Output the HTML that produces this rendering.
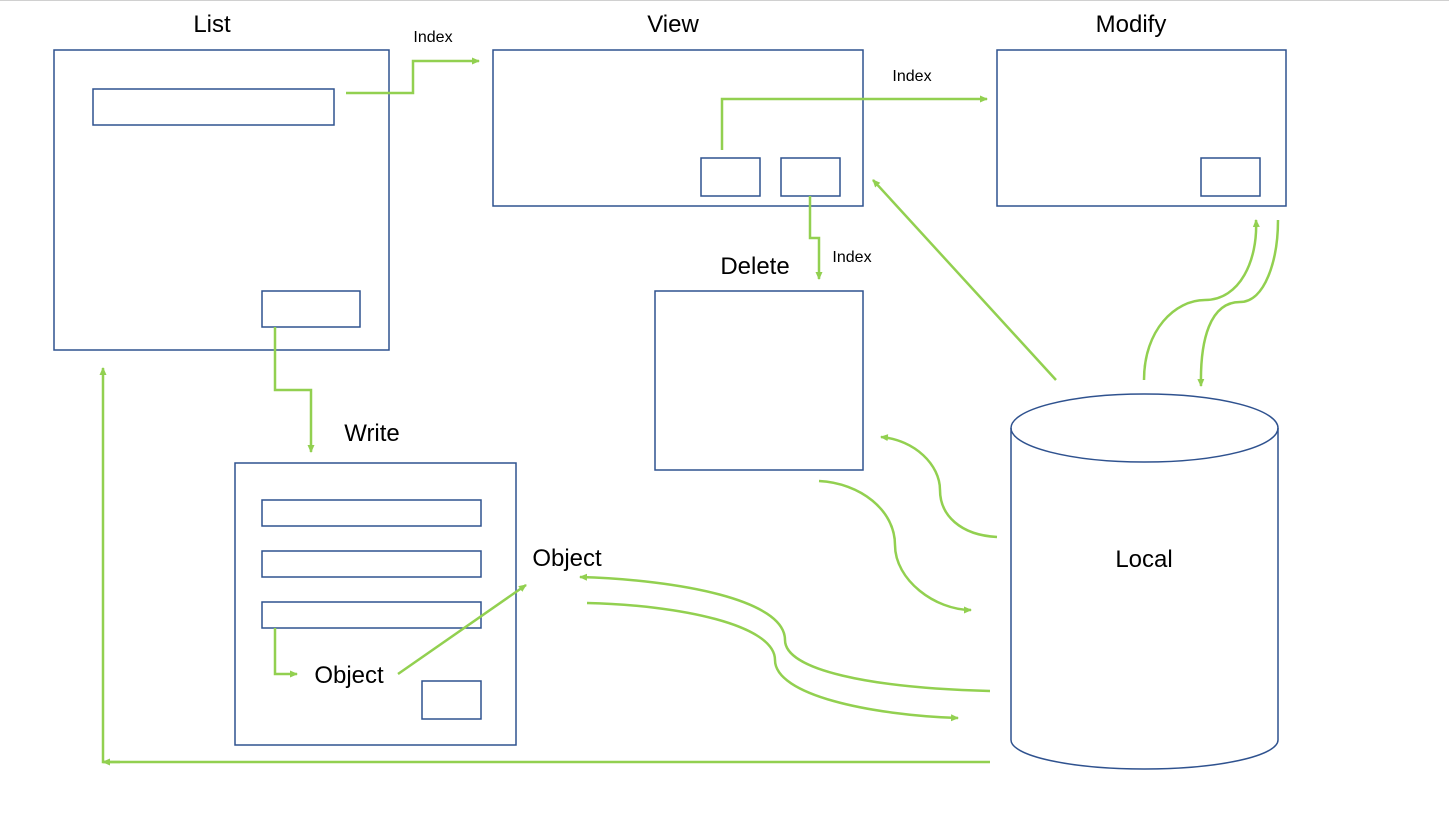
<!DOCTYPE html>
<html><head><meta charset="utf-8"><style>
html,body{margin:0;padding:0;background:#fff;}
svg{display:block;}
text{font-family:"Liberation Sans",sans-serif;fill:#000;}
</style></head><body>
<svg width="1449" height="818" viewBox="0 0 1449 818" xmlns="http://www.w3.org/2000/svg">
<defs>
<marker id="a" markerWidth="8" markerHeight="8" refX="7" refY="4" orient="auto" markerUnits="userSpaceOnUse">
<path d="M0,0.5 L8,4 L0,7.5 Z" fill="#92d050"/>
</marker>
</defs>
<line x1="0" y1="0.5" x2="1449" y2="0.5" stroke="#d0d0d0" stroke-width="1"/>
<g fill="none" stroke="#2f528f" stroke-width="1.5">
<rect x="54" y="50" width="335" height="300"/>
<rect x="93" y="89" width="241" height="36"/>
<rect x="262" y="291" width="98" height="36"/>
<rect x="493" y="50" width="370" height="156"/>
<rect x="701" y="158" width="59" height="38"/>
<rect x="781" y="158" width="59" height="38"/>
<rect x="997" y="50" width="289" height="156"/>
<rect x="1201" y="158" width="59" height="38"/>
<rect x="655" y="291" width="208" height="179"/>
<rect x="235" y="463" width="281" height="282"/>
<rect x="262" y="500" width="219" height="26"/>
<rect x="262" y="551" width="219" height="26"/>
<rect x="262" y="602" width="219" height="26"/>
<rect x="422" y="681" width="59" height="38"/>
<path d="M1011,428 L1011,740 A133.5,29 0 0 0 1278,740 L1278,428"/>
<ellipse cx="1144.5" cy="428" rx="133.5" ry="34"/>
</g>
<g fill="none" stroke="#92d050" stroke-width="2.5">
<path d="M346,93 L413,93 L413,61 L479,61" marker-end="url(#a)"/>
<path d="M722,150 L722,99 L987,99" marker-end="url(#a)"/>
<path d="M810,196 L810,238 L819,238 L819,279" marker-end="url(#a)"/>
<path d="M275,327 L275,390 L311,390 L311,452" marker-end="url(#a)"/>
<path d="M275,628 L275,674 L297,674" marker-end="url(#a)"/>
<path d="M398,674 L526,585" marker-end="url(#a)"/>
<path d="M1056,380 L873,180" marker-end="url(#a)"/>
<path d="M1144,380 C1144,330 1175,300 1205,300 C1240,300 1258,260 1256,220" marker-end="url(#a)"/>
<path d="M1278,220 C1278,260 1265,302 1240,302 C1210,302 1200,340 1201,386" marker-end="url(#a)"/>
<path d="M997,537 C960,535 940,515 940,490 C940,465 915,440 881,437" marker-end="url(#a)"/>
<path d="M819,481 C860,483 895,510 895,545 C895,580 935,610 971,610" marker-end="url(#a)"/>
<path d="M990,691 C870,688 785,670 785,640 C785,600 680,580 580,577" marker-end="url(#a)"/>
<path d="M587,603 C680,605 775,625 775,660 C775,695 870,715 958,718" marker-end="url(#a)"/>
<path d="M990,762 L103,762 L103,368" marker-end="url(#a)"/>
<path d="M120,762 L103,762" marker-end="url(#a)"/>
</g>
<g font-size="24" text-anchor="middle">
<text x="212" y="32">List</text>
<text x="673" y="32">View</text>
<text x="1131" y="32">Modify</text>
<text x="755" y="274">Delete</text>
<text x="372" y="441">Write</text>
<text x="349" y="683">Object</text>
<text x="567" y="566">Object</text>
<text x="1144" y="567">Local</text>
</g>
<g font-size="16" text-anchor="middle">
<text x="433" y="42">Index</text>
<text x="912" y="81">Index</text>
<text x="852" y="262">Index</text>
</g>
</svg>
</body></html>
